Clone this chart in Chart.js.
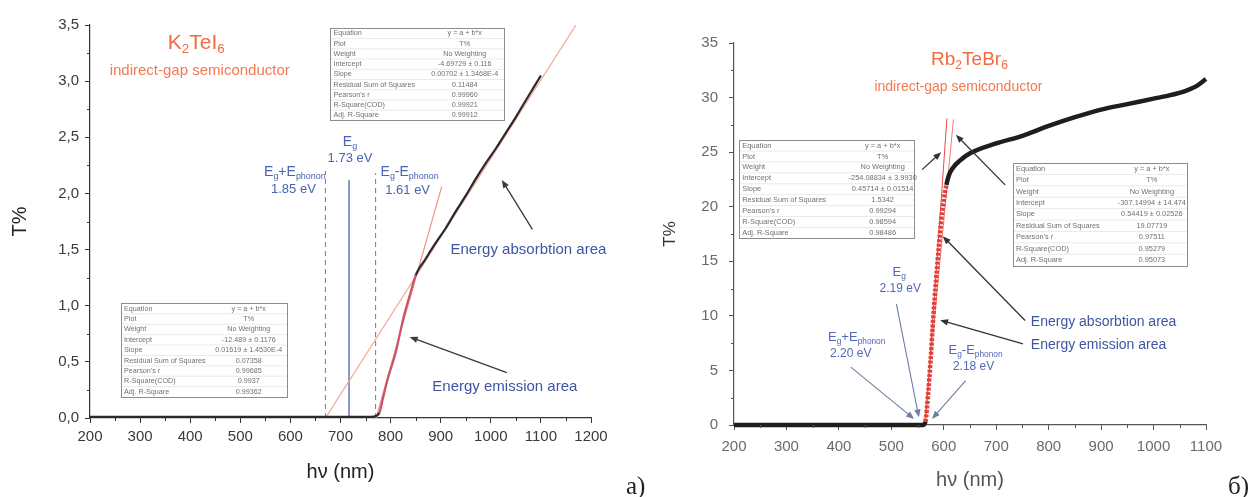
<!DOCTYPE html>
<html>
<head>
<meta charset="utf-8">
<script src="https://cdn.jsdelivr.net/npm/chart.js@4.4.1/dist/chart.umd.min.js"></script>
<style>
  body { margin: 0; background: #fff; width: 1257px; height: 497px; position: relative; overflow: hidden; }
  #chartA { position: absolute; left: 0; top: 0; }
  #chartB { position: absolute; left: 640px; top: 0; }
  .lab { position: absolute; font-family: "Liberation Serif", "DejaVu Serif", serif; font-size: 25px; line-height: 1; color: #222; }
</style>
</head>
<body>
<canvas id="chartA" width="640" height="497"></canvas>
<canvas id="chartB" width="617" height="497"></canvas>
<div class="lab" style="left:626px;top:473px">а)</div>
<div class="lab" style="left:1228px;top:473px">б)</div>
<script>
const FONT = '"Liberation Sans", Arial, sans-serif';

// K2TeI6 transmission curve
const kteiX = [200, 300, 400, 500, 600, 700, 760, 772, 778, 785, 795, 810, 826, 840, 850, 858, 866, 880, 890, 910, 930, 950, 970, 990, 1010, 1030, 1050, 1070, 1085, 1100];
const kteiY = [0.01, 0.01, 0.01, 0.01, 0.01, 0.01, 0.01, 0.02, 0.05, 0.18, 0.36, 0.58, 0.9, 1.12, 1.27, 1.34, 1.39, 1.49, 1.56, 1.69, 1.84, 1.98, 2.13, 2.27, 2.4, 2.54, 2.68, 2.83, 2.94, 3.05];
// linear fits (end points) and band gap markers, K2TeI6
const kteiFitAX = [670, 1170];
const kteiFitAY = [0, 3.5];
const kteiFitBX = [771, 902];
const kteiFitBY = [0, 2.06];
const kteiEg = 717;      // 1.73 eV
const kteiEgPlus = 670;  // 1.85 eV
const kteiEgMinus = 770; // 1.61 eV

// Rb2TeBr6 transmission curve
const rbX = [200, 300, 400, 500, 560, 565, 570, 575, 580, 585, 590, 595, 600, 605, 610, 618, 630, 650, 700, 750, 800, 850, 900, 950, 1000, 1030, 1060, 1080, 1100];
const rbY = [0, 0, 0, 0, 0, 0.3, 2.8, 6.0, 9.9, 13.1, 16.0, 18.7, 20.6, 22.0, 22.9, 23.6, 24.2, 24.9, 25.8, 26.5, 27.4, 28.2, 28.9, 29.4, 29.9, 30.2, 30.6, 31.0, 31.7];
const rbFitAX = [565, 606];
const rbFitAY = [0, 28.1];
const rbFitBX = [563, 618.4];
const rbFitBY = [0, 28.0];

// fit report tables
const boxKteiTop = [
  ['Equation', 'y = a + b*x'], ['Plot', 'T%'], ['Weight', 'No Weighting'],
  ['Intercept', '-4.69729 ± 0.116'], ['Slope', '0.00702 ± 1.3468E-4'],
  ['Residual Sum of Squares', '0.11484'], ["Pearson's r", '0.99960'],
  ['R-Square(COD)', '0.99921'], ['Adj. R-Square', '0.99912']
];
const boxKteiBottom = [
  ['Equation', 'y = a + b*x'], ['Plot', 'T%'], ['Weight', 'No Weighting'],
  ['Intercept', '-12.489 ± 0.1176'], ['Slope', '0.01619 ± 1.4530E-4'],
  ['Residual Sum of Squares', '0.07358'], ["Pearson's r", '0.99685'],
  ['R-Square(COD)', '0.9937'], ['Adj. R-Square', '0.99362']
];
const boxRbLeft = [
  ['Equation', 'y = a + b*x'], ['Plot', 'T%'], ['Weight', 'No Weighting'],
  ['Intercept', '-254.08834 ± 3.9930'], ['Slope', '0.45714 ± 0.01514'],
  ['Residual Sum of Squares', '1.5342'], ["Pearson's r", '0.99294'],
  ['R-Square(COD)', '0.98594'], ['Adj. R-Square', '0.98486']
];
const boxRbRight = [
  ['Equation', 'y = a + b*x'], ['Plot', 'T%'], ['Weight', 'No Weighting'],
  ['Intercept', '-307.14994 ± 14.474'], ['Slope', '0.54419 ± 0.02526'],
  ['Residual Sum of Squares', '19.07719'], ["Pearson's r", '0.97511'],
  ['R-Square(COD)', '0.95279'], ['Adj. R-Square', '0.95073']
];

const pts = (xs, ys) => xs.map((x, i) => ({ x: x, y: ys[i] }));

// text with _{sub} parts
function richText(ctx, str, x, y, size, color, align) {
  const parts = [];
  str.split(/(_\{[^}]*\})/).forEach(s => {
    if (!s) return;
    if (s.startsWith('_{')) parts.push([s.slice(2, -1), true]);
    else parts.push([s, false]);
  });
  const sub = size * 0.64;
  let w = 0;
  parts.forEach(p => { ctx.font = (p[1] ? sub : size) + 'px ' + FONT; w += ctx.measureText(p[0]).width; });
  let cx = align === 'left' ? x : x - w / 2;
  ctx.save();
  ctx.fillStyle = color;
  ctx.textBaseline = 'middle';
  ctx.textAlign = 'left';
  parts.forEach(p => {
    ctx.font = (p[1] ? sub : size) + 'px ' + FONT;
    ctx.fillText(p[0], cx, p[1] ? y + size * 0.32 : y);
    cx += ctx.measureText(p[0]).width;
  });
  ctx.restore();
}

function drawArrow(ctx, x0, y0, x1, y1, color, width) {
  const a = Math.atan2(y1 - y0, x1 - x0), L = 8, W = 3.2;
  ctx.save();
  ctx.strokeStyle = color; ctx.fillStyle = color; ctx.lineWidth = width;
  ctx.beginPath();
  ctx.moveTo(x0, y0);
  ctx.lineTo(x1 - Math.cos(a) * L * 0.8, y1 - Math.sin(a) * L * 0.8);
  ctx.stroke();
  ctx.beginPath();
  ctx.moveTo(x1, y1);
  ctx.lineTo(x1 - L * Math.cos(a) + W * Math.sin(a), y1 - L * Math.sin(a) - W * Math.cos(a));
  ctx.lineTo(x1 - L * Math.cos(a) - W * Math.sin(a), y1 - L * Math.sin(a) + W * Math.cos(a));
  ctx.closePath();
  ctx.fill();
  ctx.restore();
}

function drawBox(ctx, x0, y0, x1, y1, rows, size, vc) {
  const w = x1 - x0, h = y1 - y0, rh = h / rows.length;
  ctx.save();
  ctx.fillStyle = '#fff';
  ctx.fillRect(x0, y0, w, h);
  ctx.strokeStyle = '#dcdcdc';
  ctx.lineWidth = 0.6;
  for (let i = 1; i < rows.length; i++) {
    ctx.beginPath(); ctx.moveTo(x0, y0 + i * rh); ctx.lineTo(x1, y0 + i * rh); ctx.stroke();
  }
  ctx.strokeStyle = '#8c8c8c';
  ctx.lineWidth = 1;
  ctx.strokeRect(Math.round(x0) + 0.5, Math.round(y0) + 0.5, Math.round(w), Math.round(h));
  ctx.fillStyle = '#707070';
  ctx.font = size + 'px ' + FONT;
  ctx.textBaseline = 'middle';
  rows.forEach((r, i) => {
    const ty = y0 + (i + 0.5) * rh;
    ctx.textAlign = 'left';
    ctx.fillText(r[0], x0 + 3, ty);
    ctx.textAlign = 'center';
    ctx.fillText(r[1], x0 + vc * w, ty);
  });
  ctx.restore();
}

const annotate = {
  id: 'annotate',
  afterDatasetsDraw(chart, args, opts) {
    const ctx = chart.ctx;
    const X = v => chart.scales.x.getPixelForValue(v);
    const Y = v => chart.scales.y.getPixelForValue(v);
    (opts.boxes || []).forEach(b => drawBox(ctx, X(b.x0), Y(b.y0), X(b.x1), Y(b.y1), b.rows, b.size, b.vc));
    (opts.arrows || []).forEach(a => drawArrow(ctx, X(a.from[0]), Y(a.from[1]), X(a.to[0]), Y(a.to[1]), a.color, a.width || 1.3));
    (opts.texts || []).forEach(t => richText(ctx, t.text, X(t.at[0]), Y(t.at[1]), t.size, t.color, t.align));
  }
};

const minorTicks = {
  id: 'minorTicks',
  afterDraw(chart, args, opts) {
    if (!opts.xStep) return;
    const { ctx, chartArea } = chart;
    const sx = chart.scales.x, sy = chart.scales.y;
    ctx.save();
    ctx.strokeStyle = opts.color;
    ctx.lineWidth = 1;
    ctx.beginPath();
    for (let v = sx.min + opts.xStep / 2; v < sx.max; v += opts.xStep) {
      const px = Math.round(sx.getPixelForValue(v)) + 0.5;
      ctx.moveTo(px, chartArea.bottom); ctx.lineTo(px, chartArea.bottom + 3);
    }
    for (let v = sy.min + opts.yStep / 2; v < sy.max; v += opts.yStep) {
      const py = Math.round(sy.getPixelForValue(v)) + 0.5;
      ctx.moveTo(chartArea.left, py); ctx.lineTo(chartArea.left - 3, py);
    }
    ctx.stroke();
    ctx.restore();
  }
};

function axis(min, max, step, color, labelColor, size, pad, fmt) {
  return {
    type: 'linear', min: min, max: max,
    ticks: { stepSize: step, color: labelColor, padding: pad, font: { family: FONT, size: size }, callback: fmt },
    grid: { display: true, drawOnChartArea: false, drawTicks: true, tickLength: 5, color: color, tickColor: color },
    border: { display: true, color: color, width: 1.2 }
  };
}

// ---- chart a) K2TeI6
const xA = axis(200, 1200, 100, '#333', '#3a3a3a', 15, 5, v => v);
xA.title = { display: true, text: 'hν (nm)', color: '#222', font: { family: FONT, size: 20 }, padding: { top: 0, bottom: 13 } };
xA.afterFit = s => { s.height = 79; };
const yA = axis(0, 3.5, 0.5, '#333', '#3a3a3a', 15, 6, v => v.toFixed(1).replace('.', ','));
yA.title = { display: true, text: 'T%', color: '#222', font: { family: FONT, size: 20 }, padding: { top: 8, bottom: 0 } };
yA.afterFit = s => { s.width = 90; };

const blueA = '#4a63b2';
new Chart(document.getElementById('chartA'), {
  type: 'line',
  data: {
    datasets: [
      {
        data: pts(kteiX, kteiY), borderColor: '#2a2a2a', borderWidth: 2.2, pointRadius: 0, clip: 6,
        cubicInterpolationMode: 'monotone',
        segment: {
          borderColor: c => (c.p0.parsed.x >= 778 && c.p1.parsed.x <= 852) ? '#c85468' : undefined
        }
      },
      { data: pts(kteiFitAX, kteiFitAY), borderColor: '#f4a595', borderWidth: 1.2, pointRadius: 0 },
      { data: pts(kteiFitBX, kteiFitBY), borderColor: '#f39184', borderWidth: 1.2, pointRadius: 0 },
      { data: [{ x: kteiEg, y: 0 }, { x: kteiEg, y: 2.12 }], borderColor: blueA, borderWidth: 1.3, pointRadius: 0 },
      { data: [{ x: kteiEgPlus, y: 0 }, { x: kteiEgPlus, y: 2.2 }], borderColor: '#7a86a2', borderWidth: 1.1, borderDash: [5, 4], pointRadius: 0 },
      { data: [{ x: kteiEgMinus, y: 0 }, { x: kteiEgMinus, y: 2.18 }], borderColor: '#7a86a2', borderWidth: 1.1, borderDash: [5, 4], pointRadius: 0 }
    ]
  },
  options: {
    responsive: false, animation: false,
    layout: { padding: { left: 0, top: 25, right: 49, bottom: 0 } },
    scales: { x: xA, y: yA },
    plugins: {
      legend: { display: false }, tooltip: { enabled: false },
      minorTicks: { xStep: 100, yStep: 0.5, color: '#333' },
      annotate: {
        boxes: [
          { x0: 680, y0: 3.47, x1: 1028, y1: 2.65, rows: boxKteiTop, size: 7.2, vc: 0.77 },
          { x0: 262, y0: 1.02, x1: 593, y1: 0.187, rows: boxKteiBottom, size: 7.2, vc: 0.77 }
        ],
        arrows: [
          { from: [1083, 1.68], to: [1022, 2.12], color: '#3a3a3a' },
          { from: [1032, 0.404], to: [838, 0.722], color: '#3a3a3a' }
        ],
        texts: [
          { text: 'K_{2}TeI_{6}', at: [412, 3.34], size: 21, color: '#f26b3f' },
          { text: 'indirect-gap semiconductor', at: [419, 3.09], size: 15, color: '#f27a52' },
          { text: 'E_{g}', at: [719, 2.46], size: 14, color: blueA },
          { text: '1.73 eV', at: [719, 2.31], size: 13, color: blueA },
          { text: 'E_{g}+E_{phonon}', at: [609, 2.19], size: 14, color: blueA },
          { text: '1.85 eV', at: [606, 2.04], size: 13, color: blueA },
          { text: 'E_{g}-E_{phonon}', at: [838, 2.19], size: 14, color: blueA },
          { text: '1.61 eV', at: [834, 2.03], size: 13, color: blueA },
          { text: 'Energy absorbtion area', at: [1075, 1.5], size: 15, color: '#3d55a3' },
          { text: 'Energy emission area', at: [1028, 0.276], size: 15, color: '#3d55a3' }
        ]
      }
    }
  },
  plugins: [minorTicks, annotate]
});

// ---- chart б) Rb2TeBr6
const xB = axis(200, 1100, 100, '#555', '#6a6a6a', 15, 8, v => v);
xB.title = { display: true, text: 'hν (nm)', color: '#555', font: { family: FONT, size: 20 }, padding: { top: 0, bottom: 5 } };
xB.afterFit = s => { s.height = 72; };
const yB = axis(0, 35, 5, '#555', '#6a6a6a', 15, 11, v => v);
yB.title = { display: true, text: 'T%', color: '#333', font: { family: FONT, size: 17 }, padding: { top: 20, bottom: 0 } };
yB.afterFit = s => { s.width = 94; };

const blueB = '#5169b4';
const arrowB = '#6d7ea2';
new Chart(document.getElementById('chartB'), {
  type: 'line',
  data: {
    datasets: [
      {
        data: pts(rbX, rbY), borderColor: '#1e1e1e', borderWidth: 4.5, pointRadius: 0, clip: 8,
        cubicInterpolationMode: 'monotone',
        segment: {
          borderColor: c => (c.p0.parsed.x >= 563 && c.p1.parsed.x <= 606) ? '#e2403c' : undefined,
          borderDash: c => (c.p0.parsed.x >= 563 && c.p1.parsed.x <= 606) ? [3, 1.5] : undefined
        }
      },
      { data: pts(rbFitAX, rbFitAY), borderColor: '#e8483f', borderWidth: 1, pointRadius: 0 },
      { data: pts(rbFitBX, rbFitBY), borderColor: '#f27b6c', borderWidth: 1, pointRadius: 0 }
    ]
  },
  options: {
    responsive: false, animation: false,
    layout: { padding: { left: 0, top: 43, right: 51, bottom: 0 } },
    scales: { x: xB, y: yB },
    plugins: {
      legend: { display: false }, tooltip: { enabled: false },
      minorTicks: { xStep: 100, yStep: 5, color: '#555' },
      annotate: {
        boxes: [
          { x0: 210, y0: 26.1, x1: 543.5, y1: 17.1, rows: boxRbLeft, size: 7.4, vc: 0.82 },
          { x0: 732, y0: 24.0, x1: 1063, y1: 14.6, rows: boxRbRight, size: 7.4, vc: 0.8 }
        ],
        arrows: [
          { from: [509.6, 11.1], to: [552.6, 0.7], color: arrowB, width: 1.1 },
          { from: [422.7, 5.3], to: [543.5, 0.55], color: arrowB, width: 1.1 },
          { from: [641.7, 4.07], to: [577.5, 0.55], color: arrowB, width: 1.1 },
          { from: [755, 9.58], to: [598, 17.3], color: '#333' },
          { from: [751, 7.44], to: [593, 9.6], color: '#333' },
          { from: [717, 22.0], to: [623, 26.6], color: '#333' },
          { from: [558.6, 23.4], to: [595, 25.0], color: '#333' }
        ],
        texts: [
          { text: 'Rb_{2}TeBr_{6}', at: [649, 33.5], size: 19, color: '#f26b3f' },
          { text: 'indirect-gap semiconductor', at: [628, 31.0], size: 14, color: '#f27a52' },
          { text: 'E_{g}', at: [515, 14.0], size: 13, color: blueB },
          { text: '2.19 eV', at: [517, 12.5], size: 12, color: blueB },
          { text: 'E_{g}+E_{phonon}', at: [434, 8.05], size: 13, color: blueB },
          { text: '2.20 eV', at: [422.7, 6.5], size: 12, color: blueB },
          { text: 'E_{g}-E_{phonon}', at: [660.6, 6.83], size: 13, color: blueB },
          { text: '2.18 eV', at: [656.8, 5.3], size: 12, color: blueB },
          { text: 'Energy absorbtion area', at: [766, 9.43], size: 14, color: '#3d55a3', align: 'left' },
          { text: 'Energy emission area', at: [766, 7.29], size: 14, color: '#3d55a3', align: 'left' }
        ]
      }
    }
  },
  plugins: [minorTicks, annotate]
});
</script>
</body>
</html>
